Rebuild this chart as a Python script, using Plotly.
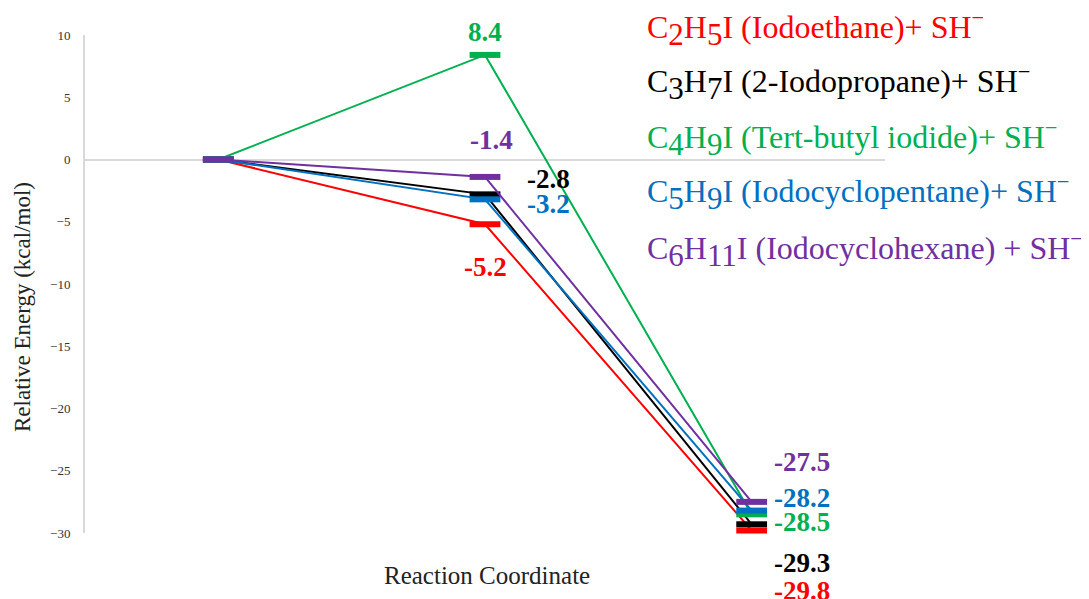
import plotly.graph_objects as go

# ---- data ----
steps = [0, 1, 2]
formulas = [("C", "2", "H", "5", "I"), ("C", "3", "H", "7", "I"), ("C", "4", "H", "9", "I"),
            ("C", "5", "H", "9", "I"), ("C", "6", "H", "11", "I")]
descriptions = [" (Iodoethane)+ SH", " (2-Iodopropane)+ SH", " (Tert-butyl iodide)+ SH",
                " (Iodocyclopentane)+ SH", " (Iodocyclohexane) + SH"]
iodoethane = [0, -5.2, -29.8]
iodopropane = [0, -2.8, -29.3]
tertbutyl = [0, 8.4, -28.5]
iodocyclopentane = [0, -3.2, -28.2]
iodocyclohexane = [0, -1.4, -27.5]
series_values = [iodoethane, iodopropane, tertbutyl, iodocyclopentane, iodocyclohexane]
colors = ["#FF0000", "#000000", "#00B050", "#0070C0", "#7030A0"]
y_ticks = [-30, -25, -20, -15, -10, -5, 0, 5, 10]

# label offsets (pixels) for the middle and final points of each series
mid_offsets = [(0, -43), (63, 15), (0, 23), (63, -5), (6, 37)]
end_offsets = [(50, -60), (50, -39), (50, -8), (50, 13), (50, 40)]

FONT = "Liberation Serif, Times New Roman, serif"
LEG_SIZE = 32


def sub(d):
    return f"<sub><span style='font-size:{LEG_SIZE - 1}px'>{d}</span></sub>"


series_names = [
    f"{c}{sub(n1)}{h}{sub(n2)}{i}{desc}<sup>\u2212</sup>"
    for (c, n1, h, n2, i), desc in zip(formulas, descriptions)
]

fig = go.Figure()
for name, vals, col in zip(series_names, series_values, colors):
    fig.add_trace(go.Scatter(
        x=steps, y=vals, mode="lines+markers", name=name,
        line=dict(color=col, width=2),
        marker=dict(symbol="line-ew", size=22, line=dict(color=col, width=6)),
        cliponaxis=False, showlegend=False,
    ))

annotations = []
for vals, col, mo, eo in zip(series_values, colors, mid_offsets, end_offsets):
    for idx, off in ((1, mo), (2, eo)):
        annotations.append(dict(
            x=steps[idx], y=vals[idx], xref="x", yref="y",
            text=f"{vals[idx]:.1f}", showarrow=False,
            xshift=off[0], yshift=off[1],
            font=dict(family=FONT, size=27, color=col, weight="bold"),
        ))

# page body adds an 8px margin; figure is sized to fill the window exactly
W, H = 1081, 591
L, R, T, B = 77, 204, 27, 66
pw, ph = W - L - R, H - T - B
legend_rows_px = [20, 75, 130, 185, 241]
for name, col, py in zip(series_names, colors, legend_rows_px):
    annotations.append(dict(
        x=(637 - L) / pw, y=(H - B - py) / ph, xref="paper", yref="paper",
        xanchor="left", yanchor="middle", text=name, showarrow=False,
        font=dict(family=FONT, size=LEG_SIZE, color=col),
    ))

# axis titles
annotations.append(dict(
    x=(479 - L) / pw, y=(H - B - 567) / ph, xref="paper", yref="paper",
    xanchor="center", yanchor="middle",
    text="Reaction Coordinate", showarrow=False,
    font=dict(family=FONT, size=25, color="#222222"),
))
annotations.append(dict(
    x=(14 - L) / pw, y=(H - B - 299) / ph, xref="paper", yref="paper",
    xanchor="center", yanchor="middle",
    text="Relative Energy (kcal/mol)", showarrow=False, textangle=-90,
    font=dict(family=FONT, size=23, color="#222222"),
))

fig.update_layout(
    width=W, height=H,
    margin=dict(l=L, r=R, t=T, b=B),
    paper_bgcolor="white", plot_bgcolor="white",
    showlegend=False,
    annotations=annotations,
    xaxis=dict(range=[-0.5, 2.5], showgrid=False, zeroline=False,
               showline=False, showticklabels=False),
    yaxis=dict(range=[-30, 10], tickvals=y_ticks, showgrid=False,
               zeroline=True, zerolinecolor="#D9D9D9", zerolinewidth=2,
               showline=True, linecolor="#D9D9D9", linewidth=2,
               ticks="", ticklabelstandoff=10,
               tickfont=dict(family=FONT, size=13, color="#333333")),
)

fig.write_html("out.html")
